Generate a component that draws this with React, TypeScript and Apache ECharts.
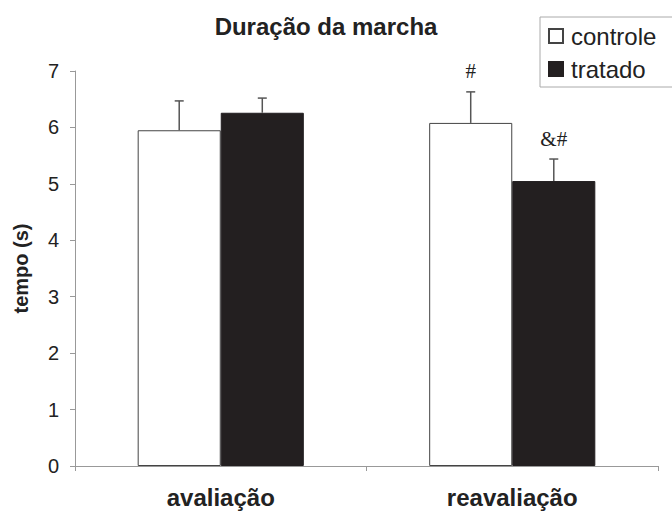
import React, { useEffect, useRef } from "react";
import * as echarts from "echarts";

const categories = ["avaliação", "reavaliação"];
const seriesNames = ["controle", "tratado"];
const controle = [5.95, 6.08];
const tratado = [6.26, 5.05];
const controleErr = [0.52, 0.55];
const tratadoErr = [0.26, 0.39];
const controleMarks = ["", "#"];
const tratadoMarks = ["", "&#"];
const yTicks = [0, 1, 2, 3, 4, 5, 6, 7];

const FONT = "'Liberation Sans', Arial, sans-serif";

function errorSeries(values: number[], errs: number[], marks: string[], side: number) {
  return {
    type: "custom",
    name: "err" + side,
    coordinateSystem: "cartesian2d",
    z: 5,
    encode: { x: 0, y: 1 },
    data: values.map((v, i) => [i, v, errs[i]]),
    renderItem: (params: any, api: any) => {
      const cat = api.value(0);
      const val = api.value(1);
      const err = api.value(2);
      const mark = marks[params.dataIndex];
      const band = api.size([1, 0])[0];
      const off = side * band * 0.1425;
      const base = api.coord([cat, val]);
      const top = api.coord([cat, val + err]);
      const x = base[0] + off;
      const st = { stroke: "#555", lineWidth: 1.5 };
      const children: any[] = [
        { type: "line", shape: { x1: x, y1: base[1], x2: x, y2: top[1] }, style: st },
        { type: "line", shape: { x1: x - 4.5, y1: top[1], x2: x + 4.5, y2: top[1] }, style: st },
      ];
      if (mark) {
        children.push({
          type: "text",
          x: x,
          y: top[1] - 10,
          style: {
            text: mark,
            fill: "#222",
            font: "21px 'Liberation Serif', 'Times New Roman', serif",
            textAlign: "center",
            textVerticalAlign: "bottom",
          },
        });
      }
      return { type: "group", children };
    },
  };
}

export default function App() {
  const ref = useRef<HTMLDivElement>(null);
  useEffect(() => {
    document.body.style.margin = "0";
    const chart = echarts.init(ref.current!, null, { renderer: "svg" });
    chart.setOption({
      animation: false,
      backgroundColor: "#fff",
      title: {
        text: "Duração da marcha",
        left: 321,
        textAlign: "center",
        top: 9,
        textStyle: { fontFamily: FONT, fontSize: 24, fontWeight: "bold", color: "#222" },
      },
      legend: {
        data: seriesNames,
        orient: "vertical",
        left: 540,
        top: 17,
        padding: [7, 30, 6, 8],
        itemGap: 9,
        itemWidth: 14,
        itemHeight: 14,
        icon: "rect",
        borderColor: "#aaa",
        borderWidth: 1,
        backgroundColor: "#fff",
        textStyle: { fontFamily: FONT, fontSize: 24, color: "#222", padding: [0, 0, 0, 3] },
      },
      grid: { left: 75, right: 14, top: 71, bottom: 47 },
      xAxis: {
        type: "category",
        data: categories,
        axisLine: { lineStyle: { color: "#999", width: 1 } },
        axisTick: { show: true, length: 5, lineStyle: { color: "#999" } },
        axisLabel: { fontFamily: FONT, fontSize: 24, fontWeight: "bold", color: "#222", margin: 19 },
      },
      yAxis: {
        type: "value",
        min: yTicks[0],
        max: yTicks[yTicks.length - 1],
        interval: 1,
        name: "tempo (s)",
        nameLocation: "middle",
        nameGap: 44,
        nameTextStyle: { fontFamily: FONT, fontSize: 20, fontWeight: "bold", color: "#222" },
        axisLine: { show: true, lineStyle: { color: "#999", width: 1 } },
        axisTick: { show: true, length: 5, lineStyle: { color: "#999" } },
        splitLine: { show: false },
        axisLabel: { fontFamily: FONT, fontSize: 20, color: "#222", margin: 16 },
      },
      series: [
        {
          type: "bar",
          name: seriesNames[0],
          data: controle,
          barGap: "0%",
          barCategoryGap: "43%",
          itemStyle: { color: "#fff", borderColor: "#444", borderWidth: 1 },
        },
        {
          type: "bar",
          name: seriesNames[1],
          data: tratado,
          barGap: "0%",
          barCategoryGap: "43%",
          itemStyle: { color: "#231f20", borderColor: "#231f20", borderWidth: 1 },
        },
        errorSeries(controle, controleErr, controleMarks, -1),
        errorSeries(tratado, tratadoErr, tratadoMarks, 1),
      ],
    });
    return () => chart.dispose();
  }, []);
  return <div ref={ref} style={{ width: 672, height: 513 }} />;
}
